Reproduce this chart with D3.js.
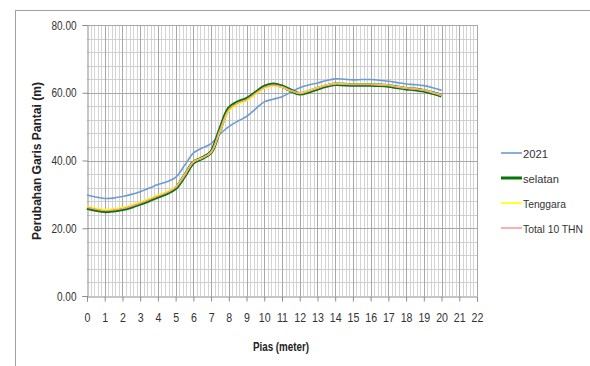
<!DOCTYPE html>
<html><head><meta charset="utf-8">
<script src="https://cdn.jsdelivr.net/npm/d3@7"></script>
<style>
html,body{margin:0;padding:0;background:#fff;}
svg text{font-family:"Liberation Sans",Arial,sans-serif;fill:#222;}
</style></head>
<body>
<svg id="c" width="590" height="366"></svg>
<script>
const pias = [0,0.5,1,1.5,2,2.5,3,3.5,4,4.5,5,5.5,6,6.5,7,7.5,8,8.5,9,9.5,10,10.5,11,11.5,12,12.5,13,13.5,14,14.5,15,15.5,16,16.5,17,17.5,18,18.5,19,19.5,20];
const s2021 = [29.8,29.2,28.8,28.9,29.4,30.0,30.8,31.8,32.9,33.7,35.0,38.5,42.2,43.7,45.0,47.8,50.0,51.6,53.0,55.2,57.3,58.1,58.8,60.2,61.5,62.3,62.9,63.6,64.1,64.0,63.8,63.9,63.9,63.7,63.4,63.0,62.6,62.4,62.1,61.5,60.7];
const selatan = [26.0,25.4,25.0,25.2,25.6,26.3,27.2,28.2,29.3,30.3,31.8,35.4,39.4,40.7,42.5,49.2,55.4,57.2,58.2,60.0,61.8,62.5,61.9,60.7,59.7,60.3,61.2,62.0,62.5,62.4,62.3,62.3,62.3,62.2,62.0,61.6,61.2,61.0,60.6,59.9,59.1];
const tenggara = [26.5,25.9,25.5,25.7,26.1,26.8,27.7,28.7,29.8,30.8,32.2,35.7,39.6,40.8,42.4,48.6,54.6,56.6,57.6,59.5,61.3,62.0,61.6,60.6,59.9,60.6,61.5,62.3,62.7,62.6,62.5,62.5,62.5,62.4,62.2,61.8,61.4,61.2,60.8,60.1,59.3];
const total10 = [26.2,25.6,25.2,25.4,25.8,26.5,27.4,28.4,29.5,30.5,32.0,35.5,39.5,40.7,42.5,49.0,55.1,57.0,58.0,59.8,61.6,62.3,61.8,60.7,59.8,60.4,61.3,62.1,62.6,62.5,62.4,62.4,62.4,62.3,62.1,61.7,61.3,61.1,60.7,60.0,59.2];
const seriesNames = ["2021","selatan","Tenggara","Total 10 THN"];
const yTicks = [0,20,40,60,80];
const xTicks = d3.range(0,23,1);
const yTitle = "Perubahan Garis Pantai (m)";
const xTitle = "Pias (meter)";

function condense(sel, f){
  sel.each(function(){
    const L = this.getComputedTextLength();
    d3.select(this).attr("textLength", L*f).attr("lengthAdjust","spacingAndGlyphs");
  });
}

const svg = d3.select("#c");
svg.append("rect").attr("x",15.5).attr("y",10.5).attr("width",600).attr("height",400)
  .attr("fill","none").attr("stroke","#a0a0a0").attr("stroke-width",1);

const x = d3.scaleLinear().domain([0,22]).range([87,477]);
const y = d3.scaleLinear().domain([0,80]).range([296,25]);

const g = svg.append("g");
const minorX = d3.range(0,22.001,0.2).filter(v=>Math.abs(v-Math.round(v))>1e-6);
g.selectAll(".mvx").data(minorX).enter().append("line")
  .attr("x1",d=>Math.round(x(d))+0.5).attr("x2",d=>Math.round(x(d))+0.5)
  .attr("y1",y(80)).attr("y2",y(0)).attr("stroke","#d4d4d4").attr("stroke-width",1);
const minorY = d3.range(4,80.001,4).filter(v=>v%20!==0);
g.selectAll(".mhy").data(minorY).enter().append("line")
  .attr("x1",x(0)).attr("x2",x(22))
  .attr("y1",d=>Math.round(y(d))+0.5).attr("y2",d=>Math.round(y(d))+0.5)
  .attr("stroke","#d0d0d0").attr("stroke-width",1);
g.selectAll(".Mvx").data(xTicks.slice(1)).enter().append("line")
  .attr("x1",d=>Math.round(x(d))+0.5).attr("x2",d=>Math.round(x(d))+0.5)
  .attr("y1",y(80)).attr("y2",y(0)).attr("stroke","#a8a8a8").attr("stroke-width",1);
g.selectAll(".Mhy").data(yTicks.slice(1)).enter().append("line")
  .attr("x1",x(0)).attr("x2",x(22))
  .attr("y1",d=>Math.round(y(d))+0.5).attr("y2",d=>Math.round(y(d))+0.5)
  .attr("stroke","#a8a8a8").attr("stroke-width",1);

const yAxis = d3.axisLeft(y).tickValues(yTicks).tickFormat(d3.format(".2f")).tickSize(5).tickPadding(6);
const ya = svg.append("g").attr("transform",`translate(${Math.round(x(0))+0.5},0)`).call(yAxis);
const xAxis = d3.axisBottom(x).tickValues(xTicks).tickFormat(d3.format("d")).tickSize(5).tickPadding(12);
const xa = svg.append("g").attr("transform",`translate(0,${Math.round(y(0))+0.5})`).call(xAxis);
[ya,xa].forEach(a=>{
  a.select(".domain").attr("stroke","#8c8c8c");
  a.selectAll(".tick line").attr("stroke","#8c8c8c");
  a.selectAll("text").attr("font-size",12.5).style("fill","#333");
});
condense(ya.selectAll(".tick text"), 0.8);
condense(xa.selectAll(".tick text"), 0.85);

const seriesData = [s2021, selatan, tenggara, total10];
const colors = ["#6f9bd4","#077507","#ffff00","#ff9a9a"];
const widths = [1.6,3.6,1.6,1.4];
const line = d3.line().x((d,i)=>x(pias[i])).y(d=>y(d)).curve(d3.curveCatmullRom.alpha(0.5));
seriesData.forEach((s,k)=>{
  svg.append("path").datum(s).attr("d",line).attr("fill","none")
    .attr("stroke",colors[k]).attr("stroke-width",widths[k]).attr("stroke-linejoin","round");
});

svg.append("text").attr("transform","translate(41,161) rotate(-90)").attr("text-anchor","middle")
  .attr("font-size",12).attr("font-weight","bold").attr("textLength",158).attr("lengthAdjust","spacingAndGlyphs").text(yTitle);
svg.append("text").attr("x",281).attr("y",351).attr("text-anchor","middle")
  .attr("font-size",12).attr("font-weight","bold").attr("textLength",56).attr("lengthAdjust","spacingAndGlyphs").text(xTitle);

const ly = [153,178,203,228];
const lw = [25,36,43,60];
seriesNames.forEach((n,k)=>{
  svg.append("line").attr("x1",501).attr("x2",522).attr("y1",ly[k]).attr("y2",ly[k])
    .attr("stroke",colors[k]).attr("stroke-width",k===1?3:1.6);
  svg.append("text").attr("x",523).attr("y",ly[k]+4.5).attr("font-size",10.5).style("fill","#333")
    .attr("textLength",lw[k]).attr("lengthAdjust","spacingAndGlyphs").text(n);
});
</script>
</body></html>
